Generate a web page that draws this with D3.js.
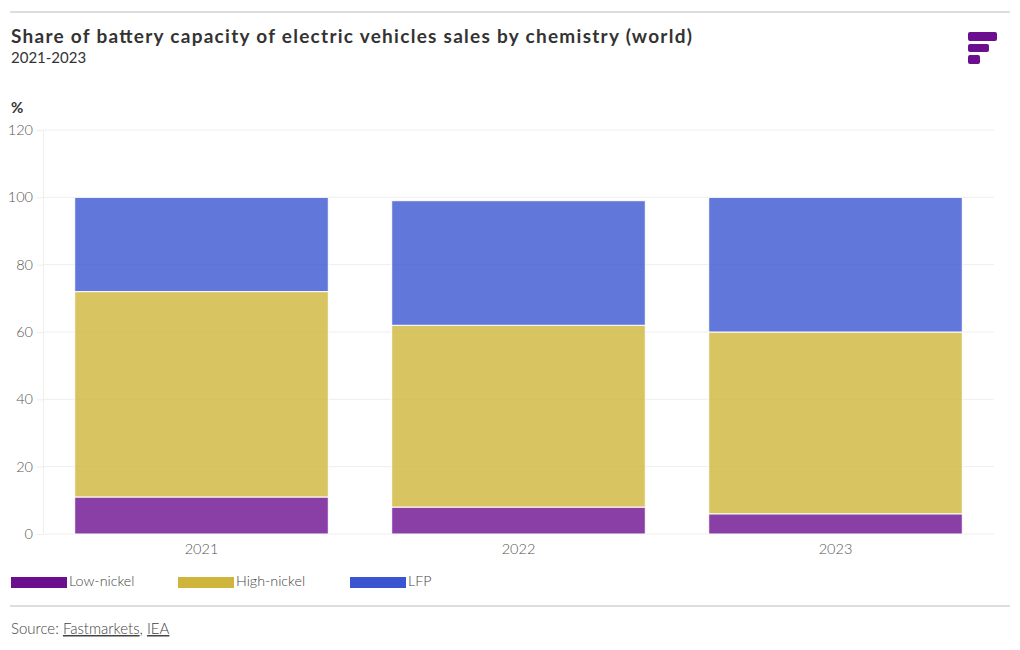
<!DOCTYPE html>
<html><head><meta charset="utf-8">
<script src="https://cdn.jsdelivr.net/npm/d3@7"></script>
<style>
body{margin:0;background:#fff;font-family:Lato,"Open Sans",sans-serif;}
</style></head>
<body><svg id="c" width="1020" height="650"></svg>
<script>
const categories = ["2021","2022","2023"];
const lowNickel = [11, 8, 6];
const highNickel = [61, 54, 54];
const lfp = [28, 37, 40];
const seriesNames = ["Low-nickel","High-nickel","LFP"];
const seriesColors = ["#6b0f8e","#cfb53b","#3b55d1"];
const yTicks = [0,20,40,60,80,100,120];

(function(){
const svg = d3.select("#c");
svg.append("line").attr("x1",10).attr("x2",1010).attr("y1",12).attr("y2",12).attr("stroke","#ddd").attr("stroke-width",2);
svg.append("text").attr("x",11).attr("y",43).attr("font-size",19).attr("font-weight",700).attr("fill","#333")
  .attr("textLength",681).attr("lengthAdjust","spacing")
  .text("Share of battery capacity of electric vehicles sales by chemistry (world)");
svg.append("text").attr("x",11).attr("y",63).attr("font-size",15).attr("fill","#333").text("2021-2023");

// logo
const logo = svg.append("g").attr("fill","#6b0f8e");
[[968,32,29,9],[968,44,21,8],[968,55,12,9]].forEach(r=>logo.append("rect").attr("x",r[0]).attr("y",r[1]).attr("width",r[2]).attr("height",r[3]).attr("rx",2));

const pl=43,pr=994,pt=130,pb=534;
const x = d3.scaleBand().domain(categories).range([pl,pr]).paddingInner(0.2).paddingOuter(0.1);
const y = d3.scaleLinear().domain([0,120]).range([pb,pt]);

svg.append("text").attr("x",11).attr("y",113).attr("font-size",15).attr("font-weight",700).attr("fill","#333").text("%");

const yAxis = svg.append("g").attr("transform",`translate(${pl},0)`)
  .call(d3.axisLeft(y).tickValues(yTicks).tickSize(6).tickPadding(4).tickSizeOuter(0));
yAxis.select(".domain").attr("stroke","#eee");
yAxis.selectAll(".tick line").attr("stroke","#eee");
yAxis.selectAll(".tick text").attr("font-size",14.5).attr("font-family","Lato").attr("font-weight",300).attr("fill","#555");
// grid
svg.append("g").selectAll("line").data(yTicks).join("line")
  .attr("x1",pl).attr("x2",pr).attr("y1",d=>y(d)).attr("y2",d=>y(d)).attr("stroke","#eee");

const data = categories.map((c,i)=>({cat:c,"Low-nickel":lowNickel[i],"High-nickel":highNickel[i],"LFP":lfp[i]}));
const stack = d3.stack().keys(seriesNames)(data);
svg.append("g").selectAll("g").data(stack).join("g")
  .attr("fill",(d,i)=>seriesColors[i]).attr("fill-opacity",0.8)
  .selectAll("rect").data(d=>d).join("rect")
  .attr("x",d=>x(d.data.cat)).attr("width",x.bandwidth())
  .attr("y",d=>y(d[1])).attr("height",d=>y(d[0])-y(d[1]))
  .attr("stroke","#fff").attr("stroke-width",1);

const xAxis = svg.append("g").attr("transform",`translate(0,${pb})`)
  .call(d3.axisBottom(x).tickSize(0).tickPadding(10));
xAxis.select(".domain").remove();
xAxis.selectAll(".tick text").attr("font-size",14.5).attr("font-family","Lato").attr("font-weight",300).attr("fill","#555");

// legend
const legX=[11,178,350];
const leg = svg.append("g");
seriesNames.forEach((n,i)=>{
  leg.append("rect").attr("x",legX[i]).attr("y",577).attr("width",56).attr("height",11).attr("fill",seriesColors[i]);
  leg.append("text").attr("x",legX[i]+58).attr("y",586).attr("font-size",14.3).attr("font-weight",300).attr("fill","#444").text(n);
});

svg.append("line").attr("x1",10).attr("x2",1010).attr("y1",606).attr("y2",606).attr("stroke","#ddd").attr("stroke-width",2);
const src = svg.append("text").attr("x",11).attr("y",634).attr("font-size",15).attr("font-weight",300).attr("fill","#444");
src.append("tspan").text("Source: ");
src.append("tspan").attr("text-decoration","underline").text("Fastmarkets");
src.append("tspan").text(", ");
src.append("tspan").attr("text-decoration","underline").text("IEA");
})();
</script></body></html>
